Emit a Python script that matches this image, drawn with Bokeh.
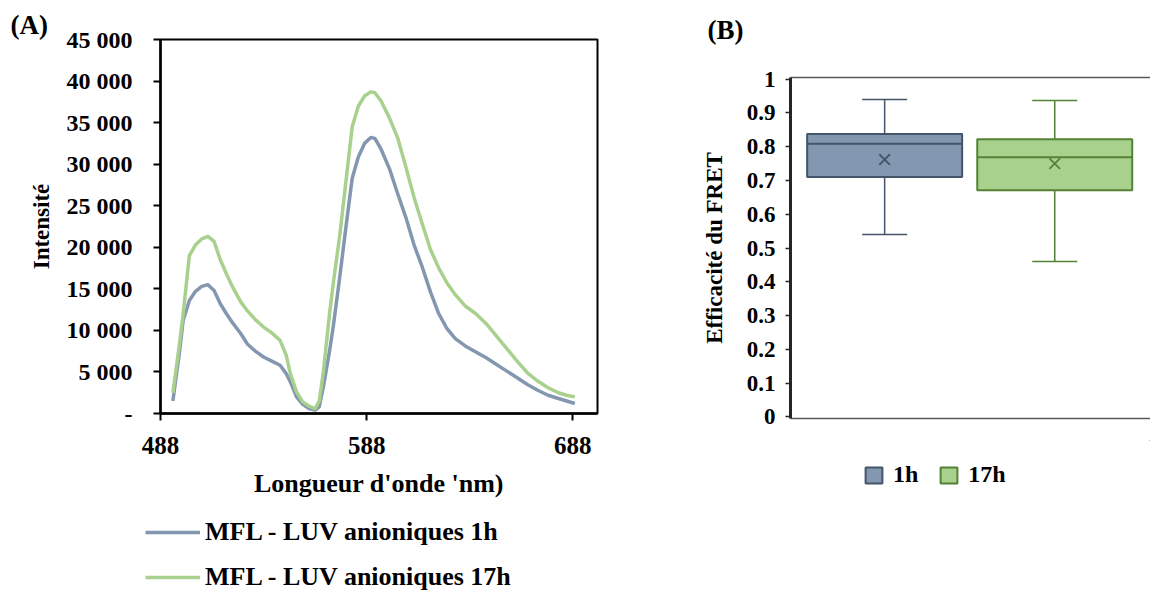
from bokeh.plotting import figure
from bokeh.layouts import row, column
from bokeh.models import (FixedTicker, CustomJSTickFormatter, Legend, LegendItem,
                          LinearAxis, Range1d)
from bokeh.embed import file_html
from bokeh.resources import INLINE

# ---------------- data: panel A (emission spectra) ----------------
WAVELENGTH_NM = [494, 497, 499, 502, 505, 508, 511, 514, 517, 520,
                 523, 527, 530, 534, 538, 542, 546, 549, 551, 554,
                 557, 560, 563, 565, 567, 570, 572, 575, 578, 581,
                 584, 587, 590, 592, 595, 599, 603, 607, 611, 615,
                 619, 623, 627, 631, 636, 641, 646, 651, 656, 661,
                 666, 671, 676, 681, 685, 689]
INTENSITY_1H = [1500, 7000, 11200, 13600, 14700, 15300, 15500, 14800, 13200, 12000,
                10900, 9600, 8400, 7500, 6800, 6300, 5800, 4800, 3800, 2000,
                1100, 600, 400, 800, 3200, 7500, 10800, 16500, 22500, 28300,
                30900, 32500, 33200, 33100, 31800, 29500, 26500, 23600, 20300, 17600,
                14600, 12000, 10200, 9000, 8100, 7400, 6700, 5900, 5100, 4300,
                3500, 2800, 2200, 1800, 1500, 1200]
INTENSITY_17H = [2500, 8000, 12000, 19000, 20300, 21000, 21300, 20700, 18500, 16800,
                 15200, 13400, 12400, 11300, 10400, 9700, 8800, 7000, 4800, 2600,
                 1400, 900, 600, 1500, 5000, 12000, 16000, 21500, 28000, 34500,
                 37000, 38200, 38700, 38600, 37600, 35600, 33200, 29700, 26000, 22800,
                 19700, 17500, 15700, 14300, 12900, 12000, 10800, 9300, 7800, 6300,
                 4900, 3900, 3100, 2500, 2200, 2000]
SERIES_A = ["MFL - LUV anioniques 1h", "MFL - LUV anioniques 17h"]
A_XTICKS = [488, 588, 688]
A_YTICKS = [0, 5000, 10000, 15000, 20000, 25000, 30000, 35000, 40000, 45000]
A_YTICK_LABELS = ["-", "5 000", "10 000", "15 000", "20 000", "25 000",
                  "30 000", "35 000", "40 000", "45 000"]

# ---------------- data: panel B (FRET efficiency box plot) ----------------
BOX_SERIES = ["1h", "17h"]
WHISKER_LOW = [0.54, 0.46]
Q1 = [0.71, 0.671]
MEDIAN = [0.809, 0.769]
Q3 = [0.838, 0.822]
WHISKER_HIGH = [0.94, 0.937]
MEAN = [0.762, 0.75]
B_YTICKS = [0, 0.1, 0.2, 0.3, 0.4, 0.5, 0.6, 0.7, 0.8, 0.9, 1]
B_YTICK_LABELS = ["0", "0.1", "0.2", "0.3", "0.4", "0.5", "0.6", "0.7", "0.8", "0.9", "1"]

# ---------------- styles ----------------
FONT = "Liberation Serif"
LINE_COLORS = ["#8497B0", "#A9D18E"]
BOX_FILL = ["#8497B0", "#A9D18E"]
BOX_LINE = ["#44546A", "#548235"]
BOX_POS = [0.523, 1.468]
BOX_W = 0.861
CAP_W = 0.25
COMMON = dict(output_backend="svg", toolbar_location=None, frame_align=False)


def label_formatter(tick_values, tick_labels):
    return CustomJSTickFormatter(args=dict(tvals=tick_values, tlabels=tick_labels), code="""
        for (let i = 0; i < tvals.length; i++) {
            if (Math.abs(tvals[i] - tick) < 1e-9 * Math.max(1, Math.abs(tick))) return tlabels[i];
        }
        return "";
    """)


def style_axis(ax, size):
    ax.major_label_text_font = FONT
    ax.major_label_text_font_style = "bold"
    ax.major_label_text_font_size = size
    ax.major_label_text_color = "black"
    ax.axis_label_text_font = FONT
    ax.axis_label_text_font_style = "bold"
    ax.axis_label_text_color = "black"
    ax.minor_tick_line_color = None


def frame_line(ax, tick_out):
    # a plain gray frame line: one invisible tick, no label
    ax.ticker = FixedTicker(ticks=[1])
    ax.formatter = CustomJSTickFormatter(code="return '';")
    ax.major_label_text_font_size = "0px"
    ax.major_tick_line_color = None
    ax.minor_tick_line_color = None
    ax.major_tick_out = tick_out
    ax.major_tick_in = 0
    ax.major_label_standoff = 0
    ax.axis_line_color = "#595959"
    ax.axis_line_width = 1.5


def style_title(p, text, offset, standoff):
    p.title.text = text
    p.title.align = "left"
    p.title.offset = offset
    p.title.standoff = standoff
    p.title.text_font = FONT
    p.title.text_font_style = "bold"
    p.title.text_font_size = "27px"
    p.title.text_color = "black"


def legend_figure(width, height):
    # legend strip: its ranges lie away from the data, so only the legend is visible
    f = figure(width=width, height=height, x_range=Range1d(-3, -2), y_range=Range1d(-3, -2),
               x_axis_type=None, y_axis_type=None, min_border=0, **COMMON)
    f.grid.visible = False
    f.outline_line_color = None
    return f


def make_legend(items, location, orientation, **kw):
    return Legend(items=items, location=location, orientation=orientation,
                  padding=0, margin=0, border_line_color=None, background_fill_alpha=0,
                  label_text_font=FONT, label_text_font_style="bold",
                  label_text_color="black", **kw)


# ================= Panel A =================
pA = figure(width=688, height=510, x_range=Range1d(488, 700), y_range=Range1d(0, 45000),
            min_border_left=160, min_border_right=91, min_border_top=39, min_border_bottom=97,
            **COMMON)
pA.grid.visible = False
pA.outline_line_color = "black"
pA.outline_line_width = 2
pA.outline_line_alpha = 1
style_title(pA, "(A)", -150, 0)

for ys, c in zip([INTENSITY_1H, INTENSITY_17H], LINE_COLORS):
    pA.line(WAVELENGTH_NM, ys, line_color=c, line_width=3.5, line_join="round")

xa = pA.xaxis[0]
style_axis(xa, "25px")
xa.ticker = FixedTicker(ticks=A_XTICKS)
xa.major_tick_out = 7
xa.major_tick_in = 0
xa.major_tick_line_width = 2
xa.axis_line_width = 2.5
xa.axis_line_color = "black"
xa.major_label_standoff = 16
xa.axis_label = "Longueur d'onde 'nm)"
xa.axis_label_text_font_size = "26px"
xa.axis_label_standoff = 12

ya = pA.yaxis[0]
style_axis(ya, "24px")
ya.ticker = FixedTicker(ticks=A_YTICKS)
ya.formatter = label_formatter(A_YTICKS, A_YTICK_LABELS)
ya.major_tick_out = 7
ya.major_tick_in = 0
ya.major_tick_line_width = 2
ya.axis_line_width = 2.5
ya.axis_line_color = "black"
ya.major_label_standoff = 21
ya.axis_label = "Intensité"
ya.axis_label_text_font_size = "23px"
ya.axis_label_standoff = 10

# legend of panel A (separate strip below the chart)
pLegA = legend_figure(688, 80)
legA_r = [pLegA.line(WAVELENGTH_NM, ys, line_color=c, line_width=3.5)
          for ys, c in zip([INTENSITY_1H, INTENSITY_17H], LINE_COLORS)]
legA = make_legend([LegendItem(label=SERIES_A[i], renderers=[legA_r[i]]) for i in range(2)],
                   (145, -2), "vertical", glyph_width=55, glyph_height=26, label_height=26,
                   spacing=15, label_standoff=5, label_text_font_size="26px")
pLegA.add_layout(legA, "center")

# ================= Panel B =================
pB = figure(width=462, height=440, x_range=Range1d(0, 2), y_range=Range1d(-0.005, 1.005),
            min_border_left=102, min_border_right=0, min_border_top=77, min_border_bottom=22,
            **COMMON)
pB.grid.visible = False
pB.outline_line_color = None
style_title(pB, "(B)", -83, 0)

for i in range(len(BOX_SERIES)):
    x = BOX_POS[i]
    lc = BOX_LINE[i]
    # whiskers
    pB.segment(x0=[x, x], x1=[x, x], y0=[Q3[i], Q1[i]], y1=[WHISKER_HIGH[i], WHISKER_LOW[i]],
               line_color=lc, line_width=1.5)
    pB.segment(x0=[x - CAP_W / 2] * 2, x1=[x + CAP_W / 2] * 2,
               y0=[WHISKER_HIGH[i], WHISKER_LOW[i]], y1=[WHISKER_HIGH[i], WHISKER_LOW[i]],
               line_color=lc, line_width=1.5)
    # box
    pB.vbar(x=[x], width=BOX_W, bottom=[Q1[i]], top=[Q3[i]],
            fill_color=BOX_FILL[i], line_color=lc, line_width=2)
    # median
    pB.segment(x0=[x - BOX_W / 2], x1=[x + BOX_W / 2], y0=[MEDIAN[i]], y1=[MEDIAN[i]],
               line_color=lc, line_width=2)
    # mean
    pB.scatter(x=[x], y=[MEAN[i]], marker="x", size=15, line_color=lc, line_width=1.8)

yb = pB.yaxis[0]
style_axis(yb, "23px")
yb.ticker = FixedTicker(ticks=B_YTICKS)
yb.formatter = label_formatter(B_YTICKS, B_YTICK_LABELS)
yb.major_tick_out = 5
yb.major_tick_in = 0
yb.major_tick_line_width = 1.5
yb.major_tick_line_color = "#262626"
yb.axis_line_width = 3
yb.axis_line_color = "#262626"
yb.major_label_standoff = 10
yb.axis_label = "Efficacité du FRET"
yb.axis_label_text_font_size = "23px"
yb.axis_label_standoff = 17

# bottom frame line
frame_line(pB.xaxis[0], 10)
# top frame line; its invisible tick reserves the room between the frame and "(B)"
top_ax = LinearAxis()
frame_line(top_ax, 33)
pB.add_layout(top_ax, "above")

# legend of panel B (separate strip below the chart)
pLegB = legend_figure(462, 150)
legB_r = [pLegB.vbar(x=[BOX_POS[i]], width=BOX_W, bottom=[Q1[i]], top=[Q3[i]],
                     fill_color=BOX_FILL[i], line_color=BOX_LINE[i], line_width=2)
          for i in range(2)]
legB = make_legend([LegendItem(label=BOX_SERIES[i], renderers=[legB_r[i]]) for i in range(2)],
                   (175, 102), "horizontal", glyph_width=21, glyph_height=20, label_height=20,
                   spacing=20, label_standoff=9, label_text_font_size="24px")
pLegB.add_layout(legB, "center")

layout = row(column(pA, pLegA), column(pB, pLegB))
open("out.html", "w").write(file_html(layout, INLINE))
